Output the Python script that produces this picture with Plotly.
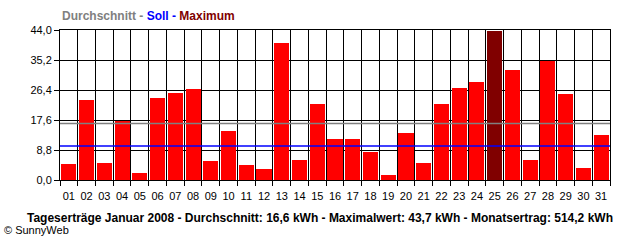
import plotly.graph_objects as go

days = [f"{d:02d}" for d in range(1, 32)]
ertrag = [4.7, 23.5, 5.0, 17.3, 2.0, 24.1, 25.5, 26.6, 5.6, 14.4, 4.4, 3.2, 40.2, 5.9, 22.3,
          12.0, 12.0, 8.2, 1.5, 13.8, 5.0, 22.3, 27.0, 28.8, 43.7, 32.3, 5.9, 34.9, 25.2, 3.5, 13.2]
durchschnitt = 16.6
soll = 10.0
max_day = "25"
y_ticks = [0.0, 8.8, 17.6, 26.4, 35.2, 44.0]
y_ticklabels = ["0,0", "8,8", "17,6", "26,4", "35,2", "44,0"]
bottom_title = "Tageserträge Januar 2008 - Durchschnitt: 16,6 kWh - Maximalwert: 43,7 kWh - Monatsertrag: 514,2 kWh"

colors = ["#800000" if d == max_day else "#FF0000" for d in days]

fig = go.Figure()
fig.add_trace(go.Bar(x=days, y=ertrag, marker=dict(color=colors, line=dict(width=0)), width=0.85))

fig.add_shape(type="line", xref="paper", x0=0, x1=1, yref="y", y0=durchschnitt, y1=durchschnitt,
              line=dict(color="#808080", width=1.5), layer="above")
fig.add_shape(type="line", xref="paper", x0=0, x1=1, yref="y", y0=soll, y1=soll,
              line=dict(color="#0000FF", width=1.5), layer="above")

font = "Liberation Sans, Arial, sans-serif"
fig.update_layout(
    width=640, height=240,
    margin=dict(l=60, r=30, t=30, b=60),
    paper_bgcolor="white", plot_bgcolor="white",
    showlegend=False, bargap=0,
    font=dict(family=font, size=11, color="black"),
    xaxis=dict(type="category", tickson="boundaries", ticks="outside", ticklen=5, tickcolor="black",
               showgrid=True, gridcolor="black", gridwidth=1, tickangle=0, automargin=False,
               ticklabelstandoff=6,
               showline=True, linecolor="black", linewidth=1, mirror=True,
               range=[-0.5, 30.5], tickfont=dict(size=11, color="black"), fixedrange=True),
    yaxis=dict(range=[0, 44], tickvals=y_ticks, ticktext=y_ticklabels, ticks="outside", ticklen=5,
               tickcolor="black", showgrid=True, gridcolor="black", gridwidth=1, automargin=False,
               showline=True, linecolor="black", linewidth=1, mirror=True, zeroline=False,
               tickfont=dict(size=11, color="black"), fixedrange=True),
    annotations=[
        dict(xref="paper", yref="paper", x=0, y=(240 - 16.5 - 60) / 150, xanchor="left", yanchor="middle",
             showarrow=False,
             text="<b><span style='color:#808080'>Durchschnitt - </span><span style='color:#0000FF'>Soll - </span><span style='color:#800000'>Maximum</span></b>",
             font=dict(family=font, size=12)),
        dict(xref="paper", yref="paper", x=(320 - 60) / 550, y=(240 - 217.5 - 60) / 150, xanchor="center",
             yanchor="middle", showarrow=False, text="<b>" + bottom_title + "</b>",
             font=dict(family=font, size=12, color="black")),
        dict(xref="paper", yref="paper", x=(2 - 60) / 550, y=(240 - 230 - 60) / 150, xanchor="left",
             yanchor="middle", showarrow=False, text="© SunnyWeb",
             font=dict(family=font, size=11, color="black")),
    ],
)

fig.write_html("out.html")
